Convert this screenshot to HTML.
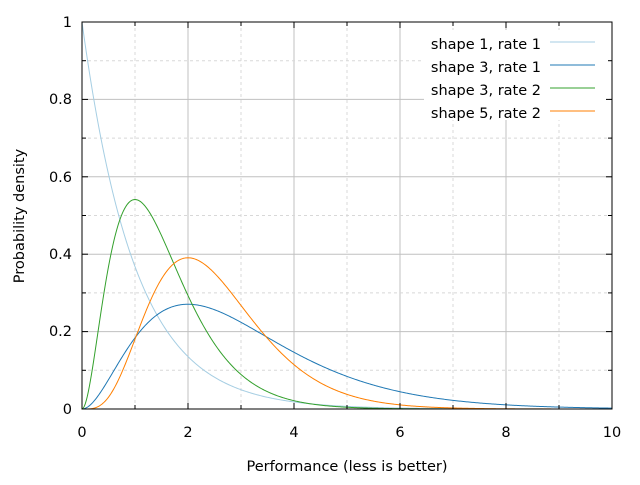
<!DOCTYPE html>
<html><head><meta charset="utf-8"><style>
body{margin:0;background:#fff}
svg text{font-family:"DejaVu Sans","Liberation Sans",sans-serif;font-size:14.5px;fill:#000}
</style></head><body>
<svg id="s" width="640" height="480" viewBox="0 0 640 480" xmlns="http://www.w3.org/2000/svg">
<g id="grid"></g>
<g id="curves"></g>
<rect x="424" y="30" width="185" height="90" fill="#fff"/>
<rect x="82" y="22" width="530" height="387" fill="none" stroke="#000" stroke-width="1"/>
<g id="ticks" stroke="#000"></g>
<g text-anchor="end">
<text x="72" y="414">0</text><text x="72" y="336">0.2</text><text x="72" y="259">0.4</text>
<text x="72" y="182">0.6</text><text x="72" y="104">0.8</text><text x="72" y="27">1</text>
</g>
<g text-anchor="middle">
<text x="82" y="437">0</text><text x="188" y="437">2</text><text x="294" y="437">4</text>
<text x="400" y="437">6</text><text x="506" y="437">8</text><text x="612" y="437">10</text>
<text x="347" y="471">Performance (less is better)</text>
<text transform="translate(24,216) rotate(-90)">Probability density</text>
</g>
<g text-anchor="end">
<text x="541" y="49">shape 1, rate 1</text>
<text x="541" y="72">shape 3, rate 1</text>
<text x="541" y="95">shape 3, rate 2</text>
<text x="541" y="118">shape 5, rate 2</text>
</g>
<line x1="550" y1="42" x2="595" y2="42" stroke="#a6cee3"/>
<line x1="550" y1="65" x2="595" y2="65" stroke="#1f78b4"/>
<line x1="550" y1="88" x2="595" y2="88" stroke="#33a02c"/>
<line x1="550" y1="111" x2="595" y2="111" stroke="#ff7f00"/>
</svg>
<script>
var X0=82,X1=612,Y0=409,Y1=22;
function px(x){return X0+(X1-X0)*x/10}
function py(y){return Y0-(Y0-Y1)*y}
var g=document.getElementById('grid'),t=document.getElementById('ticks'),c=document.getElementById('curves');
var h='',tk='';
for(var i=1;i<10;i++){var x=px(i);
 h+= i%2==0?'<line x1="'+x+'" y1="'+Y1+'" x2="'+x+'" y2="'+Y0+'" stroke="#c0c0c0"/>':'<line x1="'+x+'" y1="'+Y1+'" x2="'+x+'" y2="'+Y0+'" stroke="#d8d8d8" stroke-dasharray="3,3"/>';
 var l=i%2==0?6:4;tk+='<line x1="'+x+'" y1="'+Y0+'" x2="'+x+'" y2="'+(Y0-l)+'"/><line x1="'+x+'" y1="'+Y1+'" x2="'+x+'" y2="'+(Y1+l)+'"/>';}
for(var j=1;j<10;j++){var y=py(j/10);
 h+= j%2==0?'<line x1="'+X0+'" y1="'+y+'" x2="'+X1+'" y2="'+y+'" stroke="#c0c0c0"/>':'<line x1="'+X0+'" y1="'+y+'" x2="'+X1+'" y2="'+y+'" stroke="#d8d8d8" stroke-dasharray="3,3"/>';
 var l=j%2==0?6:4;tk+='<line x1="'+X0+'" y1="'+y+'" x2="'+(X0+l)+'" y2="'+y+'"/><line x1="'+X1+'" y1="'+y+'" x2="'+(X1-l)+'" y2="'+y+'"/>';}
g.innerHTML=h;t.innerHTML=tk;
var fs=[[function(x){return Math.exp(-x)},'#a6cee3'],
[function(x){return x*x*Math.exp(-x)/2},'#1f78b4'],
[function(x){return 4*x*x*Math.exp(-2*x)},'#33a02c'],
[function(x){return 32*Math.pow(x,4)*Math.exp(-2*x)/24},'#ff7f00']];
var s='';
fs.forEach(function(f){var p=[];for(var k=0;k<=500;k++){var x=k/50;p.push(px(x).toFixed(2)+','+py(f[0](x)).toFixed(2));}
 s+='<polyline fill="none" stroke="'+f[1]+'" stroke-width="1" points="'+p.join(' ')+'"/>';});
c.innerHTML=s;
</script>
</body></html>
